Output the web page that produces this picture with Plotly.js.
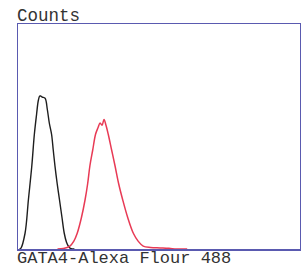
<!DOCTYPE html>
<html><head><meta charset="utf-8">
<script src="https://cdn.plot.ly/plotly-3.0.1.min.js"></script>
<style>html,body{margin:0;padding:0;background:#fff}#c{width:301px;height:268px}</style>
</head><body><div id="c"></div>
<script>
const controlX = [0.5, 1.0, 2.5, 3.7, 4.9, 5.8, 6.6, 7.2, 7.7, 8.0, 8.6, 9.6, 10.4, 11.1, 11.9, 12.5, 13.1, 13.9, 14.7, 15.6, 16.4, 17.2, 17.9, 18.6, 20.0];
const controlY = [0, 0.3, 7, 22, 37, 51, 60, 66, 68, 68, 67.5, 67, 62, 56, 51, 44, 37, 29, 22, 14, 7, 3, 1.2, 0.3, 0];
const gataX = [14.0, 16.1, 18.4, 19.8, 21.0, 22.5, 23.8, 24.7, 25.5, 26.5, 27.5, 28.4, 29.1, 29.8, 30.5, 31.2, 32.0, 33.2, 34.4, 35.7, 37.1, 38.9, 40.9, 42.6, 44.4, 47.0, 50.4, 53.5, 56.3, 60.0];
const gataY = [0, 0.2, 1.3, 3.5, 7, 14, 22, 29, 37, 44, 51, 54, 56, 55, 57.6, 55, 51, 44, 37, 29, 22, 14, 7, 3.5, 1.3, 0.7, 0.5, 0.3, 0, 0];

const traces = [
  {x: controlX, y: controlY, mode: 'lines', line: {color: '#1e1e1e', width: 1.4, shape: 'spline'}, hoverinfo: 'skip'},
  {x: gataX, y: gataY, mode: 'lines', line: {color: '#e83a55', width: 1.5, shape: 'spline'}, hoverinfo: 'skip'}
];
const axisCommon = {showline: true, mirror: true, linecolor: '#5a5ab0', linewidth: 1.5,
  showgrid: false, zeroline: false, showticklabels: false, ticks: '', fixedrange: true};
const layout = {
  width: 301, height: 268,
  margin: {l: 18, r: 1, t: 24, b: 19, pad: 0},
  paper_bgcolor: '#fff', plot_bgcolor: '#fff',
  showlegend: false,
  xaxis: Object.assign({range: [0, 100]}, axisCommon),
  yaxis: Object.assign({range: [0, 100]}, axisCommon),
  annotations: [
    {text: 'Counts', xref: 'paper', yref: 'paper', x: 0, y: 1, xanchor: 'left', yanchor: 'bottom',
     xshift: -2, yshift: -3, showarrow: false, borderpad: 0,
     font: {family: 'Liberation Mono, Courier New, monospace', size: 17.5, color: '#333'}},
    {text: 'GATA4-Alexa Flour 488', xref: 'paper', yref: 'paper', x: 0, y: 0, xanchor: 'left', yanchor: 'top',
     xshift: -2, yshift: 1.5, showarrow: false, borderpad: 0,
     font: {family: 'Liberation Mono, Courier New, monospace', size: 17, color: '#333'}}
  ]
};
Plotly.newPlot('c', traces, layout, {staticPlot: true, displayModeBar: false});
</script></body></html>
